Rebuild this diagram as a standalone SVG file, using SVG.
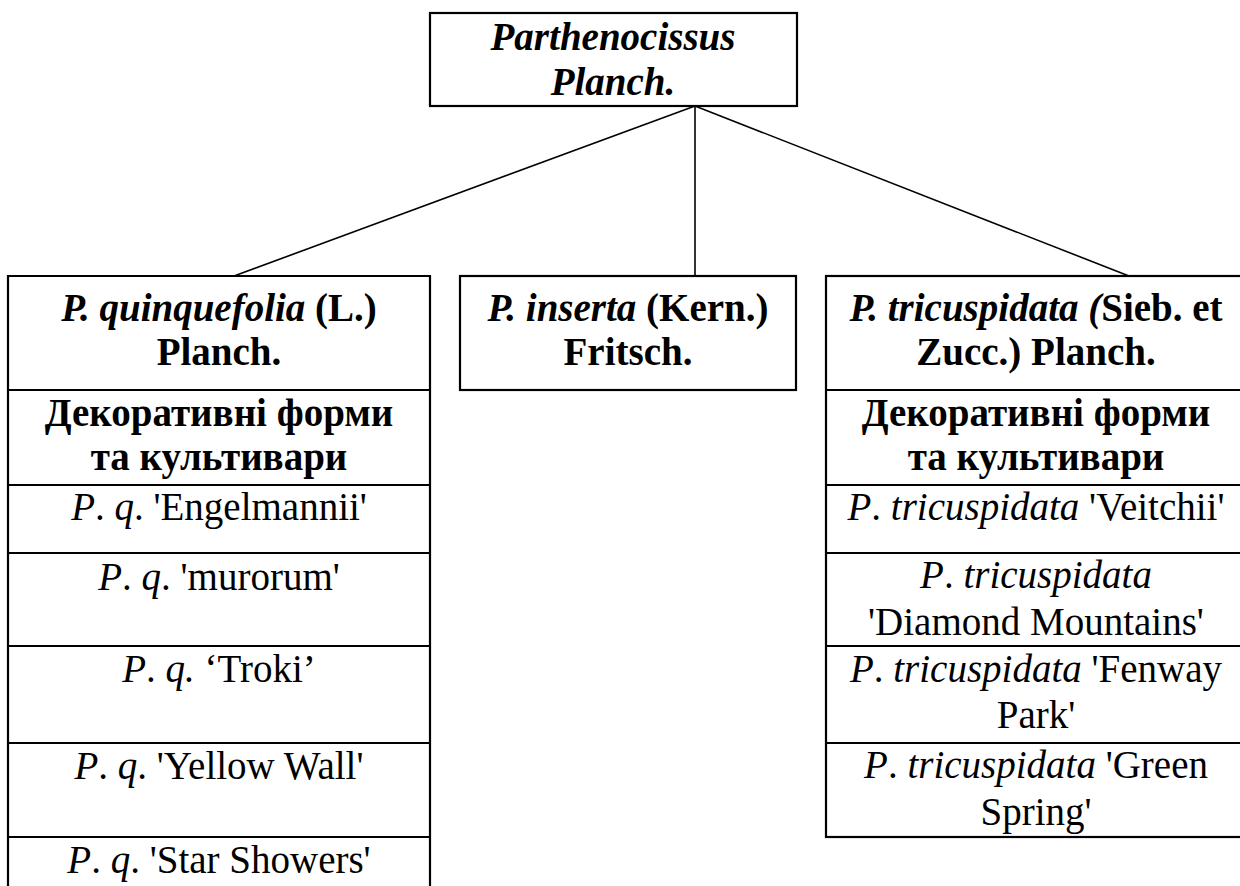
<svg xmlns="http://www.w3.org/2000/svg" width="1240" height="886" viewBox="0 0 1240 886">
<style>
.box{fill:#fff;stroke:#000;stroke-width:2.2}
.div{stroke:#000;stroke-width:2.2;fill:none}
.con{stroke:#000;stroke-width:1.6;fill:none}
text{font-family:"Liberation Serif","Times New Roman",serif;font-size:39px;fill:#000;text-anchor:middle}
.b{font-weight:bold}
.i{font-style:italic}
</style>
<rect width="1240" height="886" fill="#fff"/>
<g id="connectors">
<line class="con" x1="695" y1="106" x2="234" y2="276"/>
<line class="con" x1="695" y1="106" x2="695" y2="276"/>
<line class="con" x1="695" y1="106" x2="1129" y2="276"/>
</g>
<g id="root">
<rect class="box" x="430" y="13" width="367" height="93"/>
<text x="613" y="50" class="b i">Parthenocissus</text>
<text x="613" y="95" class="b i">Planch.</text>
</g>
<g id="quinquefolia">
<path class="div" d="M8,886 V276 H430 V886"/>
<line class="div" x1="8" y1="390" x2="430" y2="390"/>
<line class="div" x1="8" y1="485" x2="430" y2="485"/>
<line class="div" x1="8" y1="553" x2="430" y2="553"/>
<line class="div" x1="8" y1="646" x2="430" y2="646"/>
<line class="div" x1="8" y1="743" x2="430" y2="743"/>
<line class="div" x1="8" y1="837" x2="430" y2="837"/>
<text x="219" y="321" class="b"><tspan class="i">P. quinquefolia</tspan> (L.)</text>
<text x="219" y="365" class="b">Planch.</text>
<text x="219" y="426" class="b">Декоративні форми</text>
<text x="219" y="470" class="b">та культивари</text>
<text x="219" y="520"><tspan class="i">P</tspan>. <tspan class="i">q</tspan>. 'Engelmannii'</text>
<text x="219" y="590"><tspan class="i">P</tspan>. <tspan class="i">q</tspan>. 'murorum'</text>
<text x="219" y="682"><tspan class="i">P</tspan>. <tspan class="i">q.</tspan> ‘Troki’</text>
<text x="219" y="779"><tspan class="i">P</tspan>. <tspan class="i">q</tspan>. 'Yellow Wall'</text>
<text x="219" y="873"><tspan class="i">P</tspan>. <tspan class="i">q</tspan>. 'Star Showers'</text>
</g>
<g id="inserta">
<rect class="box" x="460" y="276" width="336" height="114"/>
<text x="628" y="321" class="b"><tspan class="i">P. inserta</tspan> (Kern.)</text>
<text x="628" y="365" class="b">Fritsch.</text>
</g>
<g id="tricuspidata">
<rect class="box" x="826" y="276" width="420" height="561"/>
<line class="div" x1="826" y1="390" x2="1246" y2="390"/>
<line class="div" x1="826" y1="485" x2="1246" y2="485"/>
<line class="div" x1="826" y1="553" x2="1246" y2="553"/>
<line class="div" x1="826" y1="646" x2="1246" y2="646"/>
<line class="div" x1="826" y1="743" x2="1246" y2="743"/>
<text x="1036" y="321" class="b"><tspan class="i">P. tricuspidata (</tspan>Sieb. et</text>
<text x="1036" y="365" class="b">Zucc.) Planch.</text>
<text x="1036" y="426" class="b">Декоративні форми</text>
<text x="1036" y="470" class="b">та культивари</text>
<text x="1036" y="520"><tspan class="i">P</tspan>. <tspan class="i">tricuspidata</tspan> 'Veitchii'</text>
<text x="1036" y="588"><tspan class="i">P</tspan>. <tspan class="i">tricuspidata</tspan></text>
<text x="1036" y="635">'Diamond Mountains'</text>
<text x="1036" y="682"><tspan class="i">P</tspan>. <tspan class="i">tricuspidata</tspan> 'Fenway</text>
<text x="1036" y="728">Park'</text>
<text x="1036" y="778"><tspan class="i">P</tspan>. <tspan class="i">tricuspidata</tspan> 'Green</text>
<text x="1036" y="825">Spring'</text>
</g>
</svg>
